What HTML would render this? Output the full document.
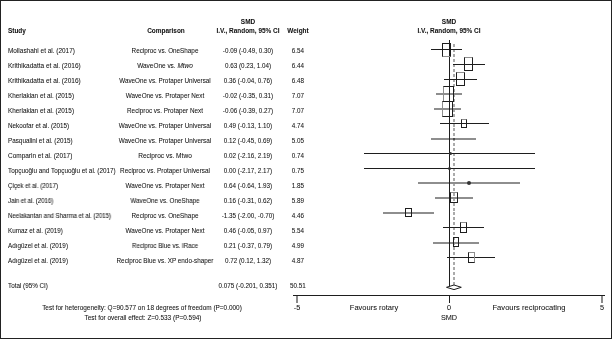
<!DOCTYPE html>
<html><head><meta charset="utf-8"><style>
html,body{margin:0;padding:0;background:#fff}
#f{position:relative;width:612px;height:339px;overflow:hidden;background:#fff}
#bd{position:absolute;left:0;top:0;width:612px;height:339px;box-sizing:border-box;border:1px solid #222}
.t{position:absolute;will-change:transform;white-space:nowrap;line-height:10px;height:10px;font-family:"Liberation Sans",sans-serif;color:#111;-webkit-text-stroke:0.05px #111}
.r{position:absolute}
.b{position:absolute;box-sizing:border-box;border:1px solid #1e1e1e;background:transparent}
</style></head><body><div id="f">
<div class="r" style="left:453px;top:44px;width:2px;height:241px;background:repeating-linear-gradient(to bottom,transparent 0,transparent 0.5px,#aaaaaa 0.5px,#aaaaaa 3.5px,transparent 3.5px,transparent 4.94px)"></div>
<div class="r" style="left:431px;top:49px;width:31px;height:1px;background:#1e1e1e"></div>
<div class="r" style="left:453px;top:64px;width:32px;height:1px;background:#1e1e1e"></div>
<div class="r" style="left:444px;top:79px;width:33px;height:1px;background:#1e1e1e"></div>
<div class="r" style="left:436px;top:93px;width:26px;height:2px;background:#8e8e8e"></div>
<div class="r" style="left:434px;top:108px;width:27px;height:2px;background:#8e8e8e"></div>
<div class="r" style="left:440px;top:123px;width:49px;height:1px;background:#1e1e1e"></div>
<div class="r" style="left:431px;top:138px;width:45px;height:2px;background:#8e8e8e"></div>
<div class="r" style="left:364px;top:153px;width:171px;height:1px;background:#1e1e1e"></div>
<div class="r" style="left:364px;top:168px;width:171px;height:1px;background:#1e1e1e"></div>
<div class="r" style="left:418px;top:182px;width:102px;height:2px;background:#8e8e8e"></div>
<div class="r" style="left:435px;top:197px;width:38px;height:2px;background:#8e8e8e"></div>
<div class="r" style="left:383px;top:212px;width:51px;height:2px;background:#8e8e8e"></div>
<div class="r" style="left:443px;top:227px;width:41px;height:1px;background:#1e1e1e"></div>
<div class="r" style="left:433px;top:242px;width:46px;height:2px;background:#8e8e8e"></div>
<div class="r" style="left:447px;top:257px;width:48px;height:1px;background:#1e1e1e"></div>
<div class="r" style="left:449px;top:40px;width:1px;height:248px;background:#1e1e1e"></div>
<div class="b" style="left:442px;top:43px;width:9px;height:14px;border-color:#1e1e1e #1e1e1e #8e8e8e #1e1e1e"></div>
<div class="b" style="left:464px;top:57px;width:9px;height:14px;border-color:#8e8e8e #1e1e1e #1e1e1e #1e1e1e"></div>
<div class="b" style="left:456px;top:72px;width:9px;height:14px;border-color:#8e8e8e #1e1e1e #1e1e1e #1e1e1e"></div>
<div class="b" style="left:443px;top:86px;width:11px;height:16px;border-color:#1e1e1e #1e1e1e #1e1e1e #8e8e8e"></div>
<div class="b" style="left:442px;top:101px;width:11px;height:16px;border-color:#1e1e1e #1e1e1e #1e1e1e #8e8e8e"></div>
<div class="b" style="left:461px;top:119px;width:6px;height:9px;border-color:#8e8e8e #1e1e1e #1e1e1e #1e1e1e"></div>
<div class="b" style="left:450px;top:192px;width:8px;height:11px;border-color:#8e8e8e #1e1e1e #1e1e1e #1e1e1e"></div>
<div class="b" style="left:405px;top:208px;width:7px;height:9px;border-color:#1e1e1e #1e1e1e #1e1e1e #1e1e1e"></div>
<div class="b" style="left:460px;top:222px;width:7px;height:11px;border-color:#8e8e8e #1e1e1e #1e1e1e #1e1e1e"></div>
<div class="b" style="left:453px;top:237px;width:6px;height:10px;border-color:#1e1e1e #1e1e1e #1e1e1e #1e1e1e"></div>
<div class="b" style="left:468px;top:252px;width:7px;height:11px;border-color:#8e8e8e #8e8e8e #1e1e1e #1e1e1e"></div>
<div class="r" style="left:449px;top:152px;width:3px;height:3px;background:#333;border-radius:50%"></div>
<div class="r" style="left:448px;top:167px;width:3px;height:3px;background:#333;border-radius:50%"></div>
<div class="r" style="left:467px;top:181px;width:4px;height:4px;background:#333;border-radius:50%"></div>
<div class="r" style="left:453px;top:138px;width:2px;height:2px;background:#333;border-radius:50%"></div>
<div class="r" style="left:293px;top:295px;width:312px;height:1px;background:#1e1e1e"></div>
<div class="r" style="left:296px;top:296px;width:2px;height:7px;background:#8a8a8a"></div>
<div class="r" style="left:449px;top:296px;width:1px;height:7px;background:#1e1e1e"></div>
<div class="r" style="left:601px;top:296px;width:2px;height:7px;background:#8a8a8a"></div>
<svg style="position:absolute;left:0;top:0" width="612" height="339"><polygon points="446.5,287.3 454,285 461.3,287.3 454,289.6" fill="#fff" stroke="#1e1e1e" stroke-width="1"/></svg>
<div class="t" style="top:26px;font-size:6.450px;font-weight:bold;left:8px;transform:translateY(0px) scaleX(1.0000);transform-origin:0 0;">Study</div>
<div class="t" style="top:26px;font-size:6.450px;font-weight:bold;left:15.50px;width:300px;text-align:center;transform:translateY(0px) scaleX(1.0000);">Comparison</div>
<div class="t" style="top:17px;font-size:6.450px;font-weight:bold;left:98.20px;width:300px;text-align:center;transform:translateY(0px) scaleX(1.0000);">SMD</div>
<div class="t" style="top:26px;font-size:6.450px;font-weight:bold;left:98.20px;width:300px;text-align:center;transform:translateY(0px) scaleX(1.0000);">I.V., Random, 95% CI</div>
<div class="t" style="top:26px;font-size:6.450px;font-weight:bold;left:148.00px;width:300px;text-align:center;transform:translateY(0px) scaleX(1.0000);">Weight</div>
<div class="t" style="top:17px;font-size:6.450px;font-weight:bold;left:299.40px;width:300px;text-align:center;transform:translateY(0px) scaleX(1.0000);">SMD</div>
<div class="t" style="top:26px;font-size:6.450px;font-weight:bold;left:299.20px;width:300px;text-align:center;transform:translateY(0px) scaleX(1.0000);">I.V., Random, 95% CI</div>
<div class="t" style="top:46px;font-size:6.300px;left:8px;transform:translateY(0px) scaleX(1.0220);transform-origin:0 0;">Mollashahi et al. (2017)</div>
<div class="t" style="top:46px;font-size:6.300px;left:15.40px;width:300px;text-align:center;transform:translateY(0px) scaleX(1.0050);">Reciproc vs. OneShape</div>
<div class="t" style="top:46px;font-size:6.300px;left:98.30px;width:300px;text-align:center;transform:translateY(0px) scaleX(1.0000);">-0.09 (-0.49, 0.30)</div>
<div class="t" style="top:46px;font-size:6.300px;left:148.10px;width:300px;text-align:center;transform:translateY(0px) scaleX(1.0000);">6.54</div>
<div class="t" style="top:61px;font-size:6.300px;left:8px;transform:translateY(0px) scaleX(1.0330);transform-origin:0 0;">Krithikadatta et al. (2016)</div>
<div class="t" style="top:61px;font-size:6.300px;left:15.40px;width:300px;text-align:center;transform:translateY(0px) scaleX(1.0240);">WaveOne vs. <i>Mtwo</i></div>
<div class="t" style="top:61px;font-size:6.300px;left:98.30px;width:300px;text-align:center;transform:translateY(0px) scaleX(1.0000);">0.63 (0.23, 1.04)</div>
<div class="t" style="top:61px;font-size:6.300px;left:148.10px;width:300px;text-align:center;transform:translateY(0px) scaleX(1.0000);">6.44</div>
<div class="t" style="top:76px;font-size:6.300px;left:8px;transform:translateY(0px) scaleX(1.0330);transform-origin:0 0;">Krithikadatta et al. (2016)</div>
<div class="t" style="top:76px;font-size:6.300px;left:15.40px;width:300px;text-align:center;transform:translateY(0px) scaleX(1.0010);">WaveOne vs. Protaper Universal</div>
<div class="t" style="top:76px;font-size:6.300px;left:98.30px;width:300px;text-align:center;transform:translateY(0px) scaleX(1.0000);">0.36 (-0.04, 0.76)</div>
<div class="t" style="top:76px;font-size:6.300px;left:148.10px;width:300px;text-align:center;transform:translateY(0px) scaleX(1.0000);">6.48</div>
<div class="t" style="top:91px;font-size:6.300px;left:8px;transform:translateY(0px) scaleX(1.0140);transform-origin:0 0;">Kherlakian et al. (2015)</div>
<div class="t" style="top:91px;font-size:6.300px;left:15.40px;width:300px;text-align:center;transform:translateY(0px) scaleX(1.0060);">WaveOne vs. Protaper Next</div>
<div class="t" style="top:91px;font-size:6.300px;left:98.30px;width:300px;text-align:center;transform:translateY(0px) scaleX(1.0000);">-0.02 (-0.35, 0.31)</div>
<div class="t" style="top:91px;font-size:6.300px;left:148.10px;width:300px;text-align:center;transform:translateY(0px) scaleX(1.0000);">7.07</div>
<div class="t" style="top:106px;font-size:6.300px;left:8px;transform:translateY(0px) scaleX(1.0140);transform-origin:0 0;">Kherlakian et al. (2015)</div>
<div class="t" style="top:106px;font-size:6.300px;left:15.40px;width:300px;text-align:center;transform:translateY(0px) scaleX(1.0090);">Reciproc vs. Protaper Next</div>
<div class="t" style="top:106px;font-size:6.300px;left:98.30px;width:300px;text-align:center;transform:translateY(0px) scaleX(1.0000);">-0.06 (-0.39, 0.27)</div>
<div class="t" style="top:106px;font-size:6.300px;left:148.10px;width:300px;text-align:center;transform:translateY(0px) scaleX(1.0000);">7.07</div>
<div class="t" style="top:121px;font-size:6.300px;left:8px;transform:translateY(0px) scaleX(1.0050);transform-origin:0 0;">Nekoofar et al. (2015)</div>
<div class="t" style="top:121px;font-size:6.300px;left:15.40px;width:300px;text-align:center;transform:translateY(0px) scaleX(1.0110);">WaveOne vs. Protaper Universal</div>
<div class="t" style="top:121px;font-size:6.300px;left:98.30px;width:300px;text-align:center;transform:translateY(0px) scaleX(1.0000);">0.49 (-0.13, 1.10)</div>
<div class="t" style="top:121px;font-size:6.300px;left:148.10px;width:300px;text-align:center;transform:translateY(0px) scaleX(1.0000);">4.74</div>
<div class="t" style="top:136px;font-size:6.300px;left:8px;transform:translateY(0px) scaleX(1.0020);transform-origin:0 0;">Pasqualini et al. (2015)</div>
<div class="t" style="top:136px;font-size:6.300px;left:15.40px;width:300px;text-align:center;transform:translateY(0px) scaleX(1.0110);">WaveOne vs. Protaper Universal</div>
<div class="t" style="top:136px;font-size:6.300px;left:98.30px;width:300px;text-align:center;transform:translateY(0px) scaleX(1.0000);">0.12 (-0.45, 0.69)</div>
<div class="t" style="top:136px;font-size:6.300px;left:148.10px;width:300px;text-align:center;transform:translateY(0px) scaleX(1.0000);">5.05</div>
<div class="t" style="top:151px;font-size:6.300px;left:8px;transform:translateY(0px) scaleX(1.0270);transform-origin:0 0;">Comparin et al. (2017)</div>
<div class="t" style="top:151px;font-size:6.300px;left:15.40px;width:300px;text-align:center;transform:translateY(0px) scaleX(1.0410);">Reciproc vs. Mtwo</div>
<div class="t" style="top:151px;font-size:6.300px;left:98.30px;width:300px;text-align:center;transform:translateY(0px) scaleX(1.0000);">0.02 (-2.16, 2.19)</div>
<div class="t" style="top:151px;font-size:6.300px;left:148.10px;width:300px;text-align:center;transform:translateY(0px) scaleX(1.0000);">0.74</div>
<div class="t" style="top:166px;font-size:6.300px;left:8px;transform:translateY(0px) scaleX(1.0100);transform-origin:0 0;">Topçuoğlu and Topçuoğlu et al. (2017)</div>
<div class="t" style="top:166px;font-size:6.300px;left:15.40px;width:300px;text-align:center;transform:translateY(0px) scaleX(1.0160);">Reciproc vs. Protaper Universal</div>
<div class="t" style="top:166px;font-size:6.300px;left:98.30px;width:300px;text-align:center;transform:translateY(0px) scaleX(1.0000);">0.00 (-2.17, 2.17)</div>
<div class="t" style="top:166px;font-size:6.300px;left:148.10px;width:300px;text-align:center;transform:translateY(0px) scaleX(1.0000);">0.75</div>
<div class="t" style="top:181px;font-size:6.300px;left:8px;transform:translateY(0px) scaleX(0.9800);transform-origin:0 0;">Çiçek et al. (2017)</div>
<div class="t" style="top:181px;font-size:6.300px;left:15.40px;width:300px;text-align:center;transform:translateY(0px) scaleX(1.0090);">WaveOne vs. Protaper Next</div>
<div class="t" style="top:181px;font-size:6.300px;left:98.30px;width:300px;text-align:center;transform:translateY(0px) scaleX(1.0000);">0.64 (-0.64, 1.93)</div>
<div class="t" style="top:181px;font-size:6.300px;left:148.10px;width:300px;text-align:center;transform:translateY(0px) scaleX(1.0000);">1.85</div>
<div class="t" style="top:196px;font-size:6.300px;left:8px;transform:translateY(0px) scaleX(0.9660);transform-origin:0 0;">Jain et al. (2016)</div>
<div class="t" style="top:196px;font-size:6.300px;left:15.40px;width:300px;text-align:center;transform:translateY(0px) scaleX(0.9940);">WaveOne vs. OneShape</div>
<div class="t" style="top:196px;font-size:6.300px;left:98.30px;width:300px;text-align:center;transform:translateY(0px) scaleX(1.0000);">0.16 (-0.31, 0.62)</div>
<div class="t" style="top:196px;font-size:6.300px;left:148.10px;width:300px;text-align:center;transform:translateY(0px) scaleX(1.0000);">5.89</div>
<div class="t" style="top:211px;font-size:6.300px;left:8px;transform:translateY(0px) scaleX(0.9640);transform-origin:0 0;">Neelakantan and Sharma et al. (2015)</div>
<div class="t" style="top:211px;font-size:6.300px;left:15.40px;width:300px;text-align:center;transform:translateY(0px) scaleX(1.0060);">Reciproc vs. OneShape</div>
<div class="t" style="top:211px;font-size:6.300px;left:98.30px;width:300px;text-align:center;transform:translateY(0px) scaleX(1.0000);">-1.35 (-2.00, -0.70)</div>
<div class="t" style="top:211px;font-size:6.300px;left:148.10px;width:300px;text-align:center;transform:translateY(0px) scaleX(1.0000);">4.46</div>
<div class="t" style="top:226px;font-size:6.300px;left:8px;transform:translateY(0px) scaleX(0.9980);transform-origin:0 0;">Kumaz et al. (2019)</div>
<div class="t" style="top:226px;font-size:6.300px;left:15.40px;width:300px;text-align:center;transform:translateY(0px) scaleX(1.0100);">WaveOne vs. Protaper Next</div>
<div class="t" style="top:226px;font-size:6.300px;left:98.30px;width:300px;text-align:center;transform:translateY(0px) scaleX(1.0000);">0.46 (-0.05, 0.97)</div>
<div class="t" style="top:226px;font-size:6.300px;left:148.10px;width:300px;text-align:center;transform:translateY(0px) scaleX(1.0000);">5.54</div>
<div class="t" style="top:241px;font-size:6.300px;left:8px;transform:translateY(0px) scaleX(1.0020);transform-origin:0 0;">Adıgüzel et al. (2019)</div>
<div class="t" style="top:241px;font-size:6.300px;left:15.40px;width:300px;text-align:center;transform:translateY(0px) scaleX(0.9880);">Reciproc Blue vs. iRace</div>
<div class="t" style="top:241px;font-size:6.300px;left:98.30px;width:300px;text-align:center;transform:translateY(0px) scaleX(1.0000);">0.21 (-0.37, 0.79)</div>
<div class="t" style="top:241px;font-size:6.300px;left:148.10px;width:300px;text-align:center;transform:translateY(0px) scaleX(1.0000);">4.99</div>
<div class="t" style="top:256px;font-size:6.300px;left:8px;transform:translateY(0px) scaleX(1.0020);transform-origin:0 0;">Adıgüzel et al. (2019)</div>
<div class="t" style="top:256px;font-size:6.300px;left:15.40px;width:300px;text-align:center;transform:translateY(0px) scaleX(1.0080);">Reciproc Blue vs. XP endo-shaper</div>
<div class="t" style="top:256px;font-size:6.300px;left:98.30px;width:300px;text-align:center;transform:translateY(0px) scaleX(1.0000);">0.72 (0.12, 1.32)</div>
<div class="t" style="top:256px;font-size:6.300px;left:148.10px;width:300px;text-align:center;transform:translateY(0px) scaleX(1.0000);">4.87</div>
<div class="t" style="top:281px;font-size:6.300px;left:8px;transform:translateY(0px) scaleX(1.0000);transform-origin:0 0;">Total (95% CI)</div>
<div class="t" style="top:281px;font-size:6.300px;left:98.10px;width:300px;text-align:center;transform:translateY(0px) scaleX(1.0000);">0.075 (-0.201, 0.351)</div>
<div class="t" style="top:281px;font-size:6.300px;left:148.00px;width:300px;text-align:center;transform:translateY(0px) scaleX(1.0000);">50.51</div>
<div class="t" style="top:303px;font-size:6.450px;left:-7.60px;width:300px;text-align:center;transform:translateY(0px) scaleX(1.0000);">Test for heterogeneity: Q=90.577 on 18 degrees of freedom (P=0.000)</div>
<div class="t" style="top:313px;font-size:6.450px;left:-7.30px;width:300px;text-align:center;transform:translateY(0px) scaleX(1.0000);">Test for overall effect: Z=0.533 (P=0.594)</div>
<div class="t" style="top:303px;font-size:7.300px;left:147.00px;width:300px;text-align:center;transform:translateY(0px) scaleX(1.0000);">-5</div>
<div class="t" style="top:303px;font-size:7.300px;left:299.30px;width:300px;text-align:center;transform:translateY(0px) scaleX(1.0000);">0</div>
<div class="t" style="top:303px;font-size:7.300px;left:452.00px;width:300px;text-align:center;transform:translateY(0px) scaleX(1.0000);">5</div>
<div class="t" style="top:313px;font-size:7.300px;left:299.40px;width:300px;text-align:center;transform:translateY(0px) scaleX(1.0000);">SMD</div>
<div class="t" style="top:303px;font-size:7.500px;left:223.60px;width:300px;text-align:center;transform:translateY(0px) scaleX(1.0000);">Favours rotary</div>
<div class="t" style="top:303px;font-size:7.600px;left:378.70px;width:300px;text-align:center;transform:translateY(0px) scaleX(1.0000);">Favours reciprocating</div>
<div id="bd"></div>
</div></body></html>
